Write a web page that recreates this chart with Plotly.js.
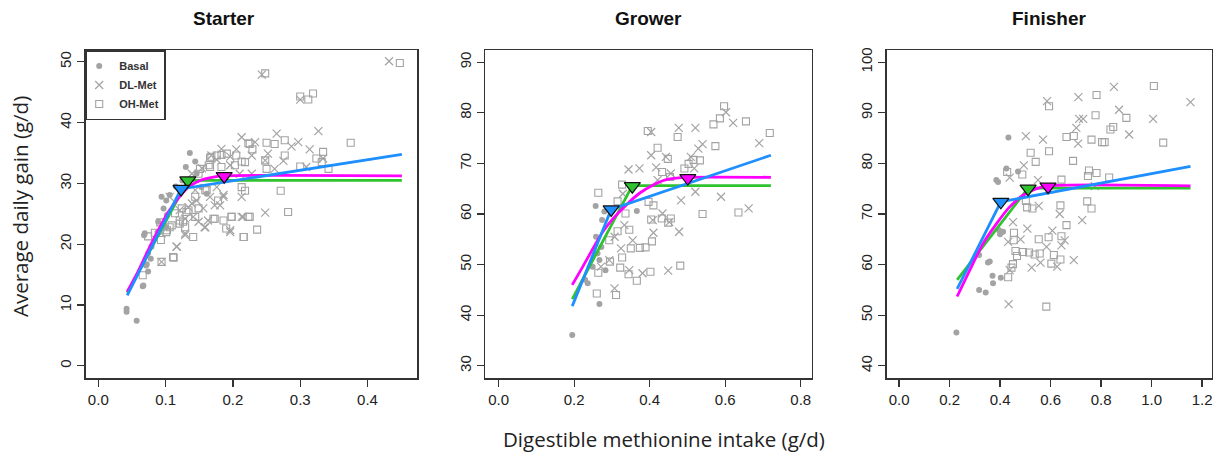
<!DOCTYPE html>
<html>
<head>
<meta charset="utf-8">
<script src="https://cdn.plot.ly/plotly-3.0.1.min.js"></script>
<style>html,body{margin:0;padding:0;background:#fff;}#chart{width:1228px;height:456px;}</style>
</head>
<body>
<div id="chart"></div>
<script>
// ---------------- DATA ----------------
const panelTitles = ["Starter", "Grower", "Finisher"];
const groupNames = ["Basal", "DL-Met", "OH-Met"];
const curveNames = ["Green", "Magenta", "Blue"];

// Starter
const starterBasalX = [0.042,0.042,0.057,0.066,0.074,0.071,0.078,0.069,0.068,0.088,0.094,0.101,0.106,0.130,0.136,0.146,0.161,0.153,0.101,0.144,0.102,0.097,0.089,0.079,0.074,0.072,0.067,0.115,0.125];
const starterBasalY = [9.4,8.9,7.4,13.1,15.5,16.5,17.6,21.8,21.5,22.0,27.8,27.2,28.1,32.7,35.0,31.6,28.3,29.4,22.8,33.6,24.8,25.9,23.7,19.6,18.5,16.7,13.2,29.5,30.5];
const starterDLX = [0.432,0.243,0.300,0.327,0.265,0.213,0.233,0.183,0.205,0.297,0.314,0.287,0.168,0.228,0.248,0.275,0.334,0.309,0.262,0.196,0.210,0.228,0.213,0.186,0.181,0.146,0.156,0.163,0.158,0.196,0.215,0.248,0.129,0.116,0.094,0.106,0.121,0.134,0.141,0.176,0.252,0.176,0.196,0.154,0.139,0.144,0.166,0.186,0.173,0.139,0.129,0.149,0.159,0.094,0.129,0.213,0.196,0.117];
const starterDLY = [50.1,47.9,43.8,38.6,38.2,37.6,36.8,35.7,35.6,36.8,35.6,36.1,34.6,34.6,33.8,33.7,34.1,32.7,32.4,33.0,31.6,31.6,27.8,28.1,26.4,27.2,25.9,23.9,22.8,22.3,24.5,25.2,21.5,19.6,17.1,27.8,25.6,26.1,24.5,29.4,34.9,33.9,34.4,32.5,31.6,28.9,27.8,27.8,26.4,26.7,24.2,23.7,22.8,21.8,21.8,24.5,22.0,19.6];
const starterOHX = [0.448,0.248,0.300,0.312,0.319,0.375,0.277,0.262,0.250,0.225,0.229,0.277,0.334,0.324,0.332,0.342,0.300,0.250,0.248,0.205,0.218,0.191,0.176,0.166,0.183,0.166,0.151,0.213,0.218,0.271,0.282,0.225,0.198,0.173,0.190,0.216,0.236,0.141,0.131,0.126,0.149,0.161,0.094,0.112,0.093,0.101,0.106,0.066,0.129,0.121,0.111,0.223,0.168,0.183,0.203,0.213,0.164,0.149,0.159,0.178,0.144,0.134,0.124,0.114,0.144,0.121,0.109,0.102,0.171,0.186,0.198,0.223,0.216,0.084,0.074,0.092];
const starterOHY = [49.8,48.1,44.3,43.8,44.8,36.7,37.1,36.5,36.7,36.5,35.6,34.6,35.2,34.1,33.5,32.4,32.8,32.4,33.8,34.6,33.5,34.9,34.6,34.2,32.7,32.7,32.4,29.4,28.8,28.8,25.3,24.5,24.5,24.2,22.6,21.2,22.4,21.2,25.3,23.7,25.9,28.9,17.1,17.8,20.7,22.0,22.8,14.9,22.8,23.9,17.9,36.6,34.4,34.7,33.0,33.6,33.0,31.6,28.9,27.2,27.8,25.6,25.9,25.1,24.5,23.4,23.1,22.3,24.2,23.9,24.5,24.5,21.2,21.9,21.3,23.6];
const starterGreenX = [0.043,0.133,0.451];
const starterGreenY = [12.0,30.5,30.5];
const starterMagX = [0.043,0.059,0.074,0.089,0.104,0.119,0.134,0.154,0.173,0.187,0.451];
const starterMagY = [12.2,15.5,19.0,22.3,25.3,27.6,29.4,30.6,31.1,31.25,31.25];
const starterBlueX = [0.043,0.123,0.451];
const starterBlueY = [11.6,29.1,34.8];
const starterBreakX = [0.133,0.187,0.123];
const starterBreakY = [30.5,31.2,29.1];

// Grower
const growerBasalX = [0.195,0.267,0.236,0.257,0.366,0.272,0.267,0.283,0.274,0.258,0.249,0.229,0.262,0.280];
const growerBasalY = [36.1,42.2,46.3,61.6,60.6,53.5,50.9,48.9,58.8,55.5,49.6,47.0,52.2,60.5];
const growerDLX = [0.602,0.621,0.477,0.521,0.404,0.690,0.540,0.529,0.404,0.509,0.443,0.344,0.373,0.417,0.518,0.456,0.421,0.329,0.483,0.521,0.589,0.662,0.434,0.452,0.408,0.410,0.478,0.333,0.355,0.324,0.307,0.293,0.271,0.346,0.381,0.449,0.307];
const growerDLY = [80.1,78.0,77.0,77.0,76.2,74.0,73.8,72.9,71.6,71.3,71.3,68.8,69.0,69.2,69.0,68.0,66.7,64.0,62.7,64.4,63.4,61.1,60.1,58.4,58.8,56.3,56.5,57.8,54.8,53.2,55.5,50.9,49.6,48.9,48.3,48.8,45.3];
const growerOHX = [0.597,0.586,0.569,0.655,0.718,0.395,0.474,0.574,0.421,0.448,0.516,0.533,0.503,0.492,0.433,0.454,0.327,0.315,0.264,0.397,0.410,0.336,0.540,0.635,0.404,0.432,0.456,0.449,0.346,0.315,0.406,0.293,0.350,0.374,0.389,0.327,0.295,0.322,0.264,0.344,0.366,0.402,0.481,0.260,0.311];
const growerOHY = [81.3,78.9,77.7,78.3,76.0,76.4,75.2,73.4,73.1,70.9,70.7,70.6,69.9,69.0,68.3,67.3,65.8,62.5,64.2,62.4,61.7,60.1,60.0,60.3,58.9,59.1,59.1,58.3,56.9,56.6,54.6,54.8,53.2,53.3,53.4,51.4,50.6,49.4,48.4,48.1,46.8,48.6,49.8,44.3,44.0];
const growerGreenX = [0.195,0.354,0.721];
const growerGreenY = [43.2,65.6,65.6];
const growerMagX = [0.195,0.223,0.250,0.276,0.303,0.338,0.373,0.408,0.444,0.488,0.501,0.721];
const growerMagY = [46.0,49.6,53.2,56.5,59.1,61.8,64.1,65.7,66.8,67.2,67.25,67.25];
const growerBlueX = [0.195,0.298,0.721];
const growerBlueY = [41.8,60.9,71.6];
const growerBreakX = [0.354,0.501,0.298];
const growerBreakY = [65.5,67.1,60.9];

// Finisher
const finisherBasalX = [0.227,0.317,0.343,0.372,0.370,0.403,0.352,0.359,0.396,0.412,0.385,0.392,0.425,0.471,0.433,0.317,0.400];
const finisherBasalY = [46.6,55.0,54.5,56.3,57.8,57.4,60.4,60.6,66.8,66.5,76.7,76.3,79.0,78.4,85.1,61.9,66.0];
const finisherDLX = [1.154,0.851,0.586,0.710,0.713,0.729,0.871,1.006,0.911,0.502,0.570,0.709,0.702,0.494,0.438,0.550,0.451,0.553,0.636,0.725,0.508,0.607,0.481,0.432,0.584,0.643,0.656,0.692,0.560,0.525,0.626,0.434,0.775,0.438];
const finisherDLY = [92.1,95.1,92.3,93.1,88.8,88.8,90.6,88.8,85.7,85.4,84.7,83.9,87.0,79.6,77.2,76.7,68.4,71.6,70.0,68.8,67.1,66.7,65.0,64.5,63.5,63.8,64.8,60.9,60.4,59.4,59.6,52.2,75.5,58.9];
const finisherOHX = [1.009,0.782,1.046,0.900,0.778,0.837,0.848,0.663,0.692,0.762,0.804,0.814,0.594,0.521,0.689,0.541,0.428,0.488,0.752,0.748,0.782,0.832,0.643,0.594,0.502,0.507,0.528,0.745,0.639,0.762,0.663,0.643,0.455,0.454,0.461,0.467,0.491,0.515,0.537,0.557,0.553,0.592,0.451,0.445,0.432,0.603,0.613,0.639,0.583];
const finisherOHY = [95.3,93.5,84.1,89.0,89.5,86.7,87.2,85.2,85.4,84.7,84.2,84.2,82.4,82.1,80.5,80.3,78.3,77.8,78.6,77.5,78.1,77.2,76.8,91.3,72.6,71.3,71.1,72.5,71.7,71.1,67.8,65.6,66.3,64.8,62.7,61.7,62.5,62.4,62.0,62.2,65.0,65.4,60.1,59.4,57.5,60.2,61.9,61.0,51.7];
const finisherGreenX = [0.230,0.511,1.154];
const finisherGreenY = [57.0,75.1,75.1];
const finisherMagX = [0.230,0.280,0.333,0.386,0.438,0.491,0.544,0.590,1.154];
const finisherMagY = [53.7,58.9,64.2,68.1,71.4,73.7,75.0,75.55,75.55];
const finisherBlueX = [0.230,0.403,1.154];
const finisherBlueY = [55.2,72.4,79.4];
const finisherBreakX = [0.511,0.590,0.403];
const finisherBreakY = [75.0,75.4,72.4];

// ---------------- STYLE ----------------
const W = 1228, H = 456;
const pointGrey = "#a3a3a3";
const curveColors = ["#2fc42f", "#ff00ff", "#1e8fff"];
const xDomains = [[85.7/W, 417/W], [485/W, 811.7/W], [886.7/W, 1211.7/W]];
const yDomain = [1 - 378/H, 1 - 50/H];
const xRanges = [[-0.0187, 0.4735], [-0.036, 0.829], [-0.049, 1.238]];
const yRanges = [[-2.0, 51.95], [27.6, 92.4], [37.6, 102.4]];
const xTicks = [[0,0.1,0.2,0.3,0.4],[0,0.2,0.4,0.6,0.8],[0,0.2,0.4,0.6,0.8,1.0,1.2]];
const yTicks = [[0,10,20,30,40,50],[30,40,50,60,70,80,90],[40,50,60,70,80,90,100]];
const titleCenters = [223.5, 648, 1049];

const panels = [
  {basal:[starterBasalX,starterBasalY], dl:[starterDLX,starterDLY], oh:[starterOHX,starterOHY],
   curves:[[starterGreenX,starterGreenY],[starterMagX,starterMagY],[starterBlueX,starterBlueY]], brk:[starterBreakX,starterBreakY]},
  {basal:[growerBasalX,growerBasalY], dl:[growerDLX,growerDLY], oh:[growerOHX,growerOHY],
   curves:[[growerGreenX,growerGreenY],[growerMagX,growerMagY],[growerBlueX,growerBlueY]], brk:[growerBreakX,growerBreakY]},
  {basal:[finisherBasalX,finisherBasalY], dl:[finisherDLX,finisherDLY], oh:[finisherOHX,finisherOHY],
   curves:[[finisherGreenX,finisherGreenY],[finisherMagX,finisherMagY],[finisherBlueX,finisherBlueY]], brk:[finisherBreakX,finisherBreakY]}
];

const traces = [];
panels.forEach((p, i) => {
  const xa = i === 0 ? "x" : "x" + (i + 1);
  const ya = i === 0 ? "y" : "y" + (i + 1);
  const leg = i === 0;
  traces.push({type:"scatter", mode:"markers", x:p.basal[0], y:p.basal[1], xaxis:xa, yaxis:ya,
    name:groupNames[0], showlegend:leg, marker:{symbol:"circle", size:6, color:pointGrey}});
  traces.push({type:"scatter", mode:"markers", x:p.dl[0], y:p.dl[1], xaxis:xa, yaxis:ya,
    name:groupNames[1], showlegend:leg, marker:{symbol:"x-thin-open", size:8, color:pointGrey, line:{color:pointGrey, width:1.2}}});
  traces.push({type:"scatter", mode:"markers", x:p.oh[0], y:p.oh[1], xaxis:xa, yaxis:ya,
    name:groupNames[2], showlegend:leg, marker:{symbol:"square-open", size:7, color:pointGrey, line:{color:pointGrey, width:1.1}}});
  p.curves.forEach((c, k) => {
    traces.push({type:"scatter", mode:"lines", x:c[0], y:c[1], xaxis:xa, yaxis:ya, showlegend:false,
      name:curveNames[k], line:{color:curveColors[k], width:2.8, shape: k === 1 ? "spline" : "linear", smoothing:0.8}});
  });
  traces.push({type:"scatter", mode:"markers", x:p.brk[0], y:p.brk[1], xaxis:xa, yaxis:ya, showlegend:false,
    marker:{symbol:"triangle-down", size:14, color:curveColors, line:{color:"#111", width:1.2}}});
});

const axisCommon = {showgrid:false, zeroline:false, showline:true, mirror:true, linecolor:"#333", linewidth:1.5,
  ticks:"outside", ticklen:7, tickwidth:1.2, tickcolor:"#333", tickfont:{family:"Liberation Sans, Arial, sans-serif", size:15, color:"#222"}};

const layout = {
  width: W, height: H,
  margin:{l:0, r:0, t:0, b:0},
  paper_bgcolor:"#fff", plot_bgcolor:"#fff",
  showlegend:true,
  legend:{x:85.7/W, y:1 - 50/H, xanchor:"left", yanchor:"top", bgcolor:"#fff", bordercolor:"#333", borderwidth:1.5,
    font:{family:"Liberation Sans, Arial, sans-serif", size:11, color:"#333", weight:"bold"}, tracegroupgap:0,
    itemsizing:"trace", itemwidth:30, indentation:-8},
  annotations: [],
};

for (let i = 0; i < 3; i++) {
  const sx = i === 0 ? "" : String(i + 1);
  layout["xaxis" + sx] = Object.assign({}, axisCommon, {domain:xDomains[i], range:xRanges[i], tickvals:xTicks[i], tickformat:".1f",
    anchor: "y" + sx});
  layout["yaxis" + sx] = Object.assign({}, axisCommon, {domain:yDomain, range:yRanges[i], tickvals:yTicks[i], tickangle:-90,
    anchor: "x" + sx});
  layout.annotations.push({text:"<b>" + panelTitles[i] + "</b>", xref:"paper", yref:"paper",
    x:titleCenters[i] / W, y:1 - 18/H, xanchor:"center", yanchor:"middle", showarrow:false,
    font:{family:"Liberation Sans, Arial, sans-serif", size:19, color:"#111"}});
}
layout.annotations.push({text:"Digestible methionine intake (g/d)", xref:"paper", yref:"paper", x:664/W, y:1 - 439/H,
  xanchor:"center", yanchor:"middle", showarrow:false, font:{family:"Open Sans, Liberation Sans, sans-serif", size:20.5, color:"#222"}});
layout.annotations.push({text:"Average daily gain (g/d)", xref:"paper", yref:"paper", x:20/W, y:1 - 207/H,
  xanchor:"center", yanchor:"middle", textangle:-90, showarrow:false, font:{family:"Open Sans, Liberation Sans, sans-serif", size:20.5, color:"#222"}});

Plotly.newPlot("chart", traces, layout, {displayModeBar:false, staticPlot:true});
</script>
</body>
</html>
